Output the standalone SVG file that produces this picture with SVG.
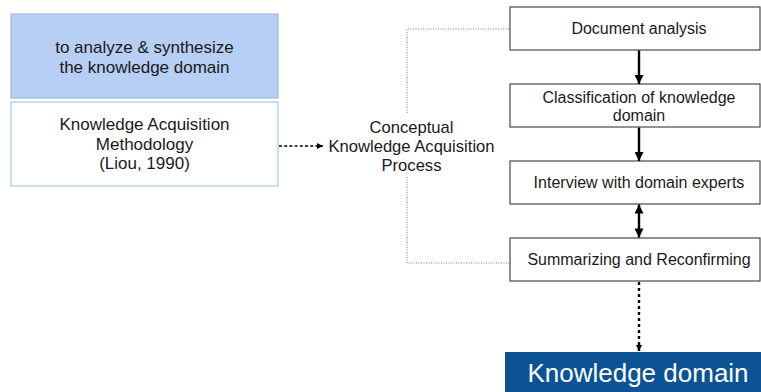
<svg xmlns="http://www.w3.org/2000/svg" width="761" height="392" viewBox="0 0 761 392">
  <style>
    .t { font-family: "Liberation Sans", Arial, sans-serif; fill: #1a1a1a; text-anchor: middle; }
    .lt { font-size: 17px; }
    .ct { font-size: 16.6px; }
    .rt { font-size: 16px; }
    .step { fill: #ffffff; stroke: #4a4a4a; stroke-width: 1.2; }
    .conn { fill: none; stroke: #000; }
    .bracket { fill: none; stroke: #7a7a7a; stroke-width: 1; stroke-dasharray: 1 1.5; }
  </style>
  <defs>
    <marker id="ahSolid" viewBox="0 0 10 10" refX="10" refY="5" markerUnits="userSpaceOnUse" markerWidth="11" markerHeight="9" orient="auto-start-reverse">
      <path d="M0,0 L10,5 L0,10 z" fill="#000"/>
    </marker>
    <marker id="ahSmall" viewBox="0 0 10 10" refX="10" refY="5" markerUnits="userSpaceOnUse" markerWidth="7" markerHeight="6" orient="auto">
      <path d="M0,0 L10,5 L0,10 z" fill="#000"/>
    </marker>
  </defs>
  <rect width="761" height="392" fill="#ffffff"/>

  <g id="goal">
    <rect x="11" y="14" width="267" height="84" fill="#b7cef5" stroke="#9fb9e2" stroke-width="1.2"/>
    <text class="t lt" x="144.5" y="53">to analyze &amp; synthesize</text>
    <text class="t lt" x="144.5" y="73">the knowledge domain</text>
  </g>

  <g id="methodology">
    <rect x="11" y="102" width="267" height="84" fill="#ffffff" stroke="#b9cde8" stroke-width="1.4"/>
    <text class="t lt" x="144.5" y="130">Knowledge Acquisition</text>
    <text class="t lt" x="144.5" y="149.5">Methodology</text>
    <text class="t lt" x="144.5" y="169">(Liou, 1990)</text>
  </g>

  <g id="process">
    <text class="t ct" x="411.5" y="133">Conceptual</text>
    <text class="t ct" x="411.5" y="152">Knowledge Acquisition</text>
    <text class="t ct" x="411.5" y="170.5">Process</text>
  </g>

  <g id="doc-analysis">
    <rect class="step" x="510" y="7" width="250" height="43"/>
    <text class="t rt" x="639" y="34">Document analysis</text>
  </g>

  <g id="classification">
    <rect class="step" x="510" y="84" width="250" height="43"/>
    <text class="t rt" x="639" y="103">Classification of knowledge</text>
    <text class="t rt" x="639" y="121">domain</text>
  </g>

  <g id="interview">
    <rect class="step" x="510" y="161" width="250" height="43"/>
    <text class="t rt" x="639" y="188">Interview with domain experts</text>
  </g>

  <g id="summarizing">
    <rect class="step" x="510" y="238" width="250" height="43"/>
    <text class="t rt" x="639" y="265">Summarizing and Reconfirming</text>
  </g>

  <g id="knowledge-domain">
    <rect x="505" y="352" width="258" height="42" fill="#0b5394"/>
    <text class="t" x="638" y="382" style="font-size:26px; fill:#ffffff;">Knowledge domain</text>
  </g>

  <g id="connectors">
    <line class="conn" x1="279" y1="146" x2="323" y2="146" stroke-width="1.4" stroke-dasharray="3 2.2" marker-end="url(#ahSmall)"/>
    <path class="bracket" d="M407,113 L407,29 L510,29"/>
    <path class="bracket" d="M407,177 L407,263 L510,263"/>
    <line class="conn" x1="639" y1="50.5" x2="639" y2="84" stroke-width="2.4" marker-end="url(#ahSolid)"/>
    <line class="conn" x1="639" y1="127.5" x2="639" y2="161" stroke-width="2.4" marker-end="url(#ahSolid)"/>
    <line class="conn" x1="639" y1="204.5" x2="639" y2="237.5" stroke-width="2.4" marker-start="url(#ahSolid)" marker-end="url(#ahSolid)"/>
    <line class="conn" x1="639" y1="282" x2="639" y2="351" stroke-width="2.4" stroke-dasharray="3 3" marker-end="url(#ahSmall)"/>
  </g>
</svg>
